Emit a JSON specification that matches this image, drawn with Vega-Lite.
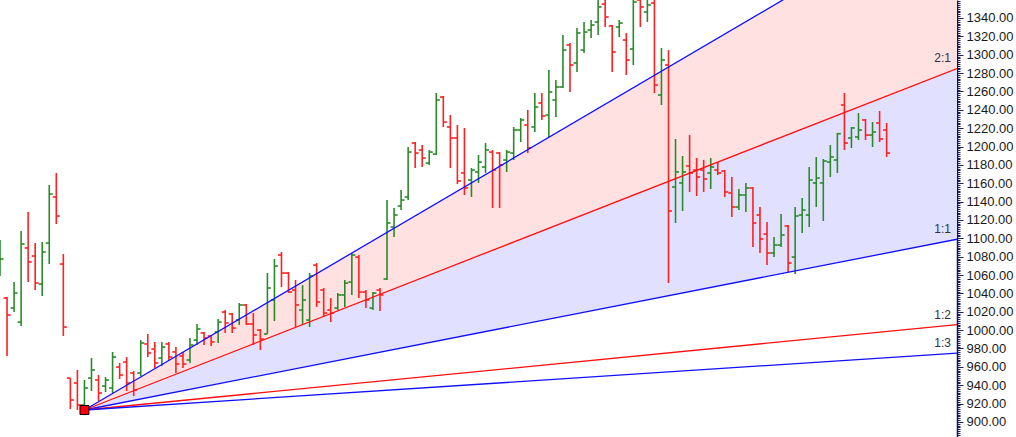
{
  "$schema": "https://vega.github.io/schema/vega-lite/v6.json",
  "width": 957,
  "height": 437,
  "autosize": {"type": "none"},
  "padding": {"left": 0, "top": 0, "right": 59, "bottom": 0},
  "background": "#ffffff",
  "config": {
    "view": {"stroke": null}
  },
  "resolve": {"scale": {"color": "independent"}, "axis": {"y": "independent", "x": "independent"}},
  "datasets": {
    "bars": [
      {"i":0,"o":1065.5,"h":1098.2,"l":1059.0,"c":1077.5},
      {"i":1,"o":1035.0,"h":1036.1,"l":971.8,"c":1016.5},
      {"i":2,"o":1024.1,"h":1052.4,"l":1019.7,"c":1040.4},
      {"i":3,"o":1008.8,"h":1108.0,"l":1004.5,"c":1093.8},
      {"i":4,"o":1089.5,"h":1128.7,"l":1052.4,"c":1074.2},
      {"i":5,"o":1080.7,"h":1094.9,"l":1043.7,"c":1051.3},
      {"i":6,"o":1050.2,"h":1096.0,"l":1037.2,"c":1085.1},
      {"i":7,"o":1094.9,"h":1158.1,"l":1072.0,"c":1148.3},
      {"i":8,"o":1145.0,"h":1171.2,"l":1115.6,"c":1124.3},
      {"i":9,"o":1072.0,"h":1082.9,"l":993.6,"c":1003.4},
      {"i":10,"o":947.8,"h":947.8,"l":914.1,"c":923.9},
      {"i":11,"o":942.4,"h":956.6,"l":913.0,"c":918.4},
      {"i":12,"o":918.4,"h":945.7,"l":912.5,"c":937.0},
      {"i":13,"o":947.8,"h":969.6,"l":933.7,"c":956.6},
      {"i":14,"o":945.7,"h":951.1,"l":922.8,"c":931.5},
      {"i":15,"o":939.1,"h":948.9,"l":932.6,"c":945.7},
      {"i":16,"o":937.0,"h":976.2,"l":931.5,"c":970.7},
      {"i":17,"o":959.8,"h":964.2,"l":946.8,"c":951.1},
      {"i":18,"o":965.3,"h":970.7,"l":933.7,"c":942.4},
      {"i":19,"o":953.3,"h":955.5,"l":928.2,"c":934.8},
      {"i":20,"o":953.3,"h":989.2,"l":950.0,"c":986.0},
      {"i":21,"o":984.9,"h":995.8,"l":970.7,"c":975.1},
      {"i":22,"o":979.4,"h":987.1,"l":958.7,"c":964.2},
      {"i":23,"o":969.6,"h":987.1,"l":960.9,"c":981.6},
      {"i":24,"o":984.9,"h":987.1,"l":967.5,"c":970.7},
      {"i":25,"o":976.2,"h":981.6,"l":953.3,"c":963.1},
      {"i":26,"o":971.8,"h":976.2,"l":958.7,"c":963.1},
      {"i":27,"o":967.5,"h":991.4,"l":964.2,"c":983.8},
      {"i":28,"o":989.2,"h":1006.7,"l":983.8,"c":1001.2},
      {"i":29,"o":996.9,"h":998.0,"l":983.8,"c":991.4},
      {"i":30,"o":993.6,"h":994.7,"l":982.7,"c":987.1},
      {"i":31,"o":998.0,"h":1012.1,"l":986.0,"c":1008.8},
      {"i":32,"o":1019.7,"h":1021.9,"l":996.9,"c":1007.8},
      {"i":33,"o":1017.6,"h":1018.6,"l":996.9,"c":1002.3},
      {"i":34,"o":1011.0,"h":1029.5,"l":1005.6,"c":1027.4},
      {"i":35,"o":1027.4,"h":1028.5,"l":1005.6,"c":1006.7},
      {"i":36,"o":1006.7,"h":1018.6,"l":983.8,"c":994.7},
      {"i":37,"o":1000.1,"h":1001.2,"l":978.3,"c":990.3},
      {"i":38,"o":995.8,"h":1062.2,"l":995.8,"c":1045.9},
      {"i":39,"o":1032.8,"h":1077.5,"l":1009.9,"c":1069.8},
      {"i":40,"o":1081.8,"h":1085.1,"l":1047.0,"c":1062.2},
      {"i":41,"o":1062.2,"h":1063.3,"l":1040.4,"c":1041.5},
      {"i":42,"o":1043.7,"h":1054.6,"l":1003.4,"c":1027.4},
      {"i":43,"o":1021.9,"h":1049.1,"l":1005.6,"c":1032.8},
      {"i":44,"o":1011.0,"h":1062.2,"l":1003.4,"c":1059.0},
      {"i":45,"o":1070.9,"h":1073.1,"l":1025.2,"c":1030.6},
      {"i":46,"o":1043.7,"h":1045.9,"l":1014.3,"c":1018.6},
      {"i":47,"o":1021.9,"h":1035.0,"l":1008.8,"c":1018.6},
      {"i":48,"o":1024.1,"h":1040.4,"l":1021.9,"c":1038.3},
      {"i":49,"o":1038.3,"h":1054.6,"l":1025.2,"c":1051.3},
      {"i":50,"o":1052.4,"h":1084.0,"l":1038.3,"c":1081.8},
      {"i":51,"o":1079.6,"h":1081.8,"l":1035.0,"c":1041.5},
      {"i":52,"o":1041.5,"h":1043.7,"l":1024.1,"c":1032.8},
      {"i":53,"o":1024.1,"h":1041.5,"l":1021.9,"c":1040.4},
      {"i":54,"o":1043.7,"h":1045.9,"l":1020.8,"c":1038.3},
      {"i":55,"o":1055.7,"h":1141.7,"l":1054.6,"c":1116.7},
      {"i":56,"o":1112.3,"h":1133.0,"l":1101.4,"c":1125.4},
      {"i":57,"o":1135.2,"h":1152.6,"l":1130.8,"c":1141.7},
      {"i":58,"o":1145.0,"h":1199.5,"l":1141.7,"c":1194.0},
      {"i":59,"o":1203.8,"h":1204.9,"l":1176.6,"c":1192.9},
      {"i":60,"o":1196.2,"h":1201.7,"l":1177.7,"c":1187.5},
      {"i":61,"o":1182.0,"h":1196.2,"l":1179.9,"c":1194.0},
      {"i":62,"o":1191.8,"h":1258.3,"l":1190.8,"c":1250.7},
      {"i":63,"o":1253.9,"h":1255.0,"l":1221.3,"c":1226.7},
      {"i":64,"o":1221.3,"h":1234.3,"l":1176.6,"c":1209.3},
      {"i":65,"o":1209.3,"h":1223.4,"l":1159.2,"c":1162.4},
      {"i":66,"o":1171.2,"h":1220.2,"l":1147.2,"c":1154.8},
      {"i":67,"o":1163.5,"h":1176.6,"l":1145.0,"c":1174.4},
      {"i":68,"o":1172.3,"h":1190.8,"l":1160.3,"c":1183.1},
      {"i":69,"o":1177.7,"h":1203.8,"l":1171.2,"c":1196.2},
      {"i":70,"o":1194.0,"h":1196.2,"l":1133.0,"c":1174.4},
      {"i":71,"o":1192.9,"h":1194.0,"l":1133.0,"c":1179.9},
      {"i":72,"o":1185.3,"h":1196.2,"l":1172.3,"c":1194.0},
      {"i":73,"o":1192.9,"h":1221.3,"l":1185.3,"c":1218.0},
      {"i":74,"o":1218.0,"h":1231.1,"l":1204.9,"c":1228.9},
      {"i":75,"o":1223.4,"h":1239.8,"l":1192.9,"c":1198.4},
      {"i":76,"o":1221.3,"h":1258.3,"l":1215.8,"c":1243.0},
      {"i":77,"o":1247.4,"h":1258.3,"l":1228.9,"c":1233.2},
      {"i":78,"o":1234.3,"h":1283.4,"l":1210.4,"c":1259.4},
      {"i":79,"o":1250.7,"h":1272.5,"l":1232.1,"c":1264.8},
      {"i":80,"o":1264.8,"h":1321.5,"l":1263.7,"c":1305.1},
      {"i":81,"o":1310.6,"h":1312.8,"l":1259.4,"c":1288.8},
      {"i":82,"o":1291.0,"h":1329.1,"l":1281.2,"c":1323.7},
      {"i":83,"o":1305.1,"h":1335.6,"l":1301.9,"c":1324.7},
      {"i":84,"o":1326.9,"h":1337.8,"l":1318.2,"c":1332.4},
      {"i":85,"o":1335.6,"h":1365.0,"l":1321.5,"c":1352.0},
      {"i":86,"o":1355.2,"h":1365.0,"l":1330.2,"c":1341.1},
      {"i":87,"o":1331.3,"h":1332.4,"l":1281.2,"c":1303.0},
      {"i":88,"o":1330.2,"h":1337.8,"l":1319.3,"c":1334.5},
      {"i":89,"o":1316.0,"h":1323.7,"l":1277.9,"c":1294.2},
      {"i":90,"o":1306.2,"h":1366.1,"l":1288.8,"c":1357.4},
      {"i":91,"o":1359.6,"h":1366.1,"l":1330.2,"c":1352.0},
      {"i":92,"o":1346.5,"h":1365.0,"l":1335.6,"c":1354.2},
      {"i":93,"o":1356.3,"h":1365.0,"l":1258.3,"c":1267.0},
      {"i":94,"o":1256.1,"h":1307.3,"l":1245.2,"c":1294.2},
      {"i":95,"o":1288.8,"h":1305.1,"l":1051.3,"c":1129.8},
      {"i":96,"o":1155.9,"h":1208.2,"l":1116.7,"c":1172.3},
      {"i":97,"o":1160.3,"h":1189.7,"l":1129.8,"c":1172.3},
      {"i":98,"o":1178.8,"h":1212.5,"l":1150.5,"c":1171.2},
      {"i":99,"o":1174.4,"h":1187.5,"l":1146.1,"c":1166.8},
      {"i":100,"o":1174.4,"h":1185.3,"l":1150.5,"c":1164.6},
      {"i":101,"o":1171.2,"h":1187.5,"l":1153.7,"c":1177.7},
      {"i":102,"o":1174.4,"h":1183.1,"l":1169.0,"c":1171.2},
      {"i":103,"o":1173.3,"h":1174.4,"l":1145.0,"c":1150.5},
      {"i":104,"o":1149.4,"h":1166.8,"l":1123.2,"c":1134.1},
      {"i":105,"o":1134.1,"h":1153.7,"l":1130.8,"c":1147.2},
      {"i":106,"o":1147.2,"h":1160.3,"l":1128.7,"c":1154.8},
      {"i":107,"o":1154.8,"h":1155.9,"l":1090.5,"c":1116.7},
      {"i":108,"o":1125.4,"h":1134.1,"l":1084.0,"c":1099.3},
      {"i":109,"o":1104.7,"h":1117.8,"l":1070.9,"c":1084.0},
      {"i":110,"o":1084.0,"h":1101.4,"l":1079.6,"c":1092.7},
      {"i":111,"o":1092.7,"h":1126.5,"l":1090.5,"c":1103.6},
      {"i":112,"o":1113.4,"h":1114.5,"l":1063.3,"c":1073.1},
      {"i":113,"o":1079.6,"h":1134.1,"l":1061.1,"c":1124.3},
      {"i":114,"o":1125.4,"h":1143.9,"l":1105.8,"c":1130.8},
      {"i":115,"o":1125.4,"h":1177.7,"l":1112.3,"c":1163.5},
      {"i":116,"o":1160.3,"h":1188.6,"l":1134.1,"c":1165.7},
      {"i":117,"o":1160.3,"h":1186.4,"l":1118.9,"c":1184.2},
      {"i":118,"o":1183.1,"h":1201.7,"l":1166.8,"c":1188.6},
      {"i":119,"o":1185.3,"h":1214.7,"l":1171.2,"c":1214.0},
      {"i":120,"o":1245.2,"h":1258.3,"l":1196.2,"c":1203.8},
      {"i":121,"o":1209.3,"h":1221.3,"l":1198.4,"c":1220.2},
      {"i":122,"o":1210.4,"h":1236.5,"l":1207.1,"c":1218.0},
      {"i":123,"o":1228.9,"h":1230.0,"l":1207.1,"c":1212.5},
      {"i":124,"o":1212.5,"h":1226.7,"l":1199.5,"c":1215.8},
      {"i":125,"o":1225.6,"h":1238.7,"l":1204.9,"c":1208.2},
      {"i":126,"o":1218.0,"h":1225.6,"l":1188.6,"c":1192.9}
    ],
    "bands": [
      {"band":"upper","i":12,"top":913,"bot":913},
      {"band":"upper","i":136,"top":1471,"bot":1285},
      {"band":"lower","i":12,"top":913,"bot":913},
      {"band":"lower","i":136,"top":1285,"bot":1099}
    ],
    "fan": [
      {"line":"3:1","i":12,"p":913},{"line":"3:1","i":136,"p":1471},
      {"line":"2:1","i":12,"p":913},{"line":"2:1","i":136,"p":1285},
      {"line":"1:1","i":12,"p":913},{"line":"1:1","i":136,"p":1099},
      {"line":"1:2","i":12,"p":913},{"line":"1:2","i":136,"p":1006},
      {"line":"1:3","i":12,"p":913},{"line":"1:3","i":136,"p":975}
    ],
    "labels": [
      {"line":"2:1","i":136,"p":1285},
      {"line":"1:1","i":136,"p":1099},
      {"line":"1:2","i":136,"p":1006},
      {"line":"1:3","i":136,"p":975}
    ],
    "origin": [{"i":12,"p":913}]
  },
  "layer": [
    {
      "data": {"name": "bands"},
      "mark": {"type": "area", "clip": true, "opacity": 1},
      "encoding": {
        "x": {"field": "i", "type": "quantitative", "scale": {"domain": [0, 136], "nice": false, "zero": false}, "axis": null},
        "y": {
          "field": "top", "type": "quantitative", "title": null,
          "scale": {"domain": [883.6, 1359.6], "nice": false, "zero": false},
          "axis": {
            "orient": "right",
            "values": [880,882,884,886,888,890,892,894,896,898,900,902,904,906,908,910,912,914,916,918,920,922,924,926,928,930,932,934,936,938,940,942,944,946,948,950,952,954,956,958,960,962,964,966,968,970,972,974,976,978,980,982,984,986,988,990,992,994,996,998,1000,1002,1004,1006,1008,1010,1012,1014,1016,1018,1020,1022,1024,1026,1028,1030,1032,1034,1036,1038,1040,1042,1044,1046,1048,1050,1052,1054,1056,1058,1060,1062,1064,1066,1068,1070,1072,1074,1076,1078,1080,1082,1084,1086,1088,1090,1092,1094,1096,1098,1100,1102,1104,1106,1108,1110,1112,1114,1116,1118,1120,1122,1124,1126,1128,1130,1132,1134,1136,1138,1140,1142,1144,1146,1148,1150,1152,1154,1156,1158,1160,1162,1164,1166,1168,1170,1172,1174,1176,1178,1180,1182,1184,1186,1188,1190,1192,1194,1196,1198,1200,1202,1204,1206,1208,1210,1212,1214,1216,1218,1220,1222,1224,1226,1228,1230,1232,1234,1236,1238,1240,1242,1244,1246,1248,1250,1252,1254,1256,1258,1260,1262,1264,1266,1268,1270,1272,1274,1276,1278,1280,1282,1284,1286,1288,1290,1292,1294,1296,1298,1300,1302,1304,1306,1308,1310,1312,1314,1316,1318,1320,1322,1324,1326,1328,1330,1332,1334,1336,1338,1340,1342,1344,1346,1348,1350,1352,1354,1356,1358,1360],
            "labelExpr": "datum.value % 20 == 0 ? format(datum.value, '.2f') : ''",
            "labelOverlap": false,
            "labelFont": "Liberation Sans",
            "labelFontSize": 13,
            "labelColor": "#1a1a1a",
            "labelPadding": 3,
            "labelBound": false,
            "labelFlush": false,
            "ticks": true,
            "tickSize": {"condition": {"test": "datum.value % 20 == 0", "value": 6}, "value": 3},
            "tickColor": "#202060",
            "tickWidth": 1,
            "domainColor": "#10106a",
            "domainWidth": 1.5,
            "grid": false,
            "title": null
          }
        },
        "y2": {"field": "bot"},
        "color": {"field": "band", "type": "nominal", "scale": {"domain": ["upper", "lower"], "range": ["#ffe1e1", "#e1e1ff"]}, "legend": null}
      }
    },
    {
      "data": {"name": "bars"},
      "mark": {"type": "rule", "clip": true, "strokeWidth": 1.6},
      "encoding": {
        "x": {"field": "i", "type": "quantitative", "axis": null},
        "y": {"field": "h", "type": "quantitative", "axis": null},
        "y2": {"field": "l"},
        "color": {"condition": {"test": "datum.c >= datum.o", "value": "#2a8a2a"}, "value": "#ff2020"}
      }
    },
    {
      "data": {"name": "bars"},
      "mark": {"type": "rule", "clip": true, "strokeWidth": 1.6, "xOffset": -3.5, "x2Offset": 0},
      "encoding": {
        "x": {"field": "i", "type": "quantitative", "axis": null},
        "x2": {"field": "i"},
        "y": {"field": "o", "type": "quantitative", "axis": null},
        "color": {"condition": {"test": "datum.c >= datum.o", "value": "#2a8a2a"}, "value": "#ff2020"}
      }
    },
    {
      "data": {"name": "bars"},
      "mark": {"type": "rule", "clip": true, "strokeWidth": 1.6, "xOffset": 0, "x2Offset": 3.5},
      "encoding": {
        "x": {"field": "i", "type": "quantitative", "axis": null},
        "x2": {"field": "i"},
        "y": {"field": "c", "type": "quantitative", "axis": null},
        "color": {"condition": {"test": "datum.c >= datum.o", "value": "#2a8a2a"}, "value": "#ff2020"}
      }
    },
    {
      "data": {"name": "fan"},
      "mark": {"type": "line", "clip": true, "strokeWidth": 1.3},
      "encoding": {
        "x": {"field": "i", "type": "quantitative", "axis": null},
        "y": {"field": "p", "type": "quantitative", "axis": null},
        "detail": {"field": "line"},
        "color": {"field": "line", "type": "nominal", "scale": {"domain": ["3:1", "2:1", "1:1", "1:2", "1:3"], "range": ["#1010ff", "#ff1010", "#1010ff", "#ff1010", "#1010ff"]}, "legend": null}
      }
    },
    {
      "data": {"name": "labels"},
      "mark": {"type": "text", "align": "right", "baseline": "bottom", "dx": -6, "dy": -3, "font": "Liberation Sans", "fontSize": 12, "color": "#303040"},
      "encoding": {
        "x": {"field": "i", "type": "quantitative", "axis": null},
        "y": {"field": "p", "type": "quantitative", "axis": null},
        "text": {"field": "line"}
      }
    },
    {
      "data": {"name": "origin"},
      "mark": {"type": "point", "shape": "square", "size": 80, "filled": true, "fill": "#ff0000", "stroke": "#000000", "strokeWidth": 1, "opacity": 1},
      "encoding": {
        "x": {"field": "i", "type": "quantitative", "axis": null},
        "y": {"field": "p", "type": "quantitative", "axis": null}
      }
    }
  ]
}
